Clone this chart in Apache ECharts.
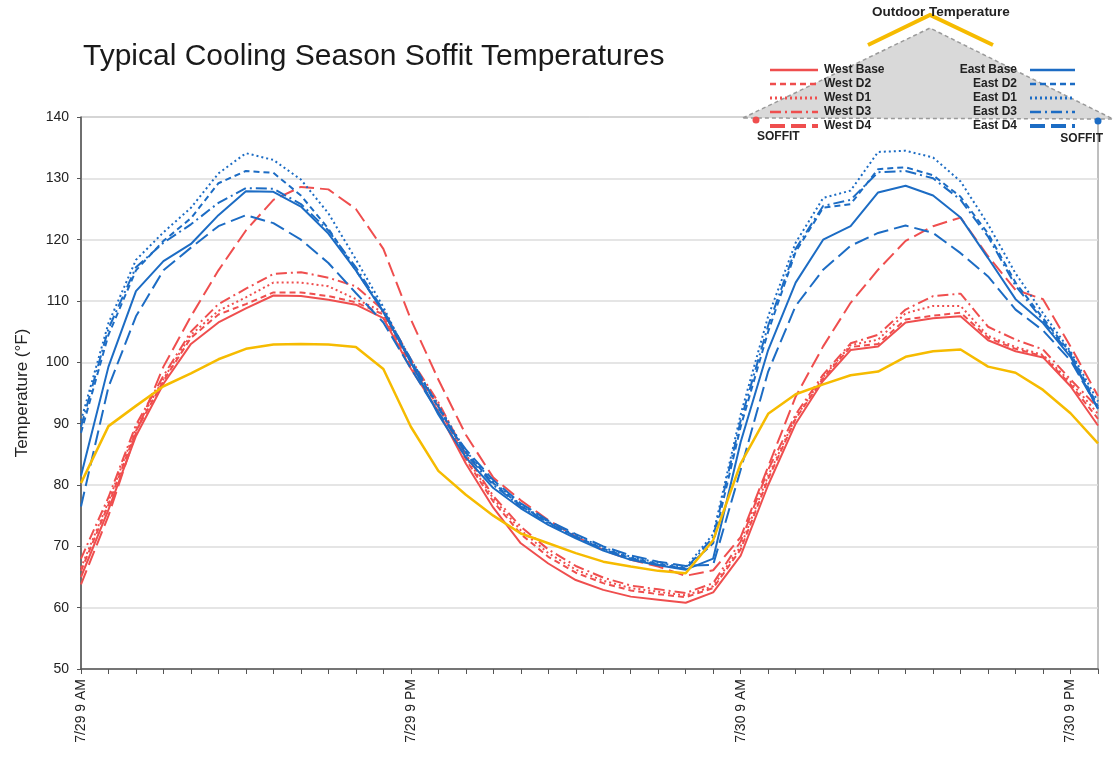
<!DOCTYPE html>
<html>
<head>
<meta charset="utf-8">
<script src="https://cdn.jsdelivr.net/npm/echarts@6/dist/echarts.min.js"></script>
<style>
html,body{margin:0;padding:0;background:#fff;}
#chart{width:1114px;height:759px;}
</style>
</head>
<body>
<div id="chart"></div>
<script>
const categories = [
  '7/29 9 AM','7/29 10 AM','7/29 11 AM','7/29 12 PM','7/29 1 PM','7/29 2 PM','7/29 3 PM','7/29 4 PM',
  '7/29 5 PM','7/29 6 PM','7/29 7 PM','7/29 8 PM','7/29 9 PM','7/29 10 PM','7/29 11 PM',
  '7/30 12 AM','7/30 1 AM','7/30 2 AM','7/30 3 AM','7/30 4 AM','7/30 5 AM','7/30 6 AM','7/30 7 AM',
  '7/30 8 AM','7/30 9 AM','7/30 10 AM','7/30 11 AM','7/30 12 PM','7/30 1 PM','7/30 2 PM','7/30 3 PM',
  '7/30 4 PM','7/30 5 PM','7/30 6 PM','7/30 7 PM','7/30 8 PM','7/30 9 PM','7/30 10 PM'
];
const tickLabels = ['7/29 9 AM','7/29 9 PM','7/30 9 AM','7/30 9 PM'];

const outdoor  = [80.3,89.6,92.9,96.1,98.2,100.5,102.2,102.9,103.0,102.9,102.5,98.9,89.5,82.3,78.4,75.0,72.1,70.5,68.9,67.5,66.7,66.0,65.6,71.0,83.5,91.6,94.8,96.4,97.9,98.5,100.9,101.8,102.1,99.3,98.3,95.5,91.7,86.8];

const westBase = [65.0,76.0,88.0,96.5,103.0,106.5,108.8,110.9,110.8,110.2,109.4,107.2,99.0,92.0,83.5,76.3,70.5,67.2,64.5,62.9,61.8,61.3,60.8,62.5,68.5,80.0,90.0,97.0,102.0,102.6,106.5,107.2,107.5,103.6,101.8,100.8,96.1,89.7];
const westD2   = [66.0,76.8,88.8,97.0,104.0,107.8,109.5,111.4,111.4,110.8,109.8,107.8,99.5,92.8,84.2,77.3,72.0,68.3,65.7,64.0,62.8,62.2,61.7,63.2,69.5,81.0,90.8,97.4,102.5,103.0,107.0,107.6,108.1,104.0,102.2,101.0,96.4,90.8];
const westD1   = [66.5,77.3,89.3,97.3,104.5,108.4,110.6,113.0,113.0,112.4,110.3,108.2,100.0,93.2,84.6,77.8,72.6,68.9,66.2,64.4,63.2,62.6,62.0,63.5,70.0,81.5,91.0,97.6,102.8,103.7,108.0,109.2,109.2,104.3,102.5,101.2,96.8,91.6];
const westD3   = [68.0,78.0,89.8,97.8,105.0,109.5,112.0,114.4,114.7,113.8,112.4,108.5,100.5,93.5,85.0,78.2,73.2,69.5,66.8,64.9,63.6,63.0,62.4,64.0,70.8,82.5,91.5,98.0,103.1,104.5,108.6,110.8,111.2,105.8,103.7,102.1,97.2,92.6];
const westD4   = [63.8,75.0,88.5,99.3,107.5,115.0,121.5,126.5,128.6,128.2,125.0,118.5,107.0,97.2,88.2,81.2,77.5,74.3,71.6,69.4,67.8,66.7,65.2,66.1,71.5,83.0,94.4,102.6,109.7,115.1,119.8,122.2,123.6,117.3,111.8,110.3,102.6,94.5];

const eastBase = [81.5,99.3,111.6,116.5,119.3,124.0,127.9,127.8,125.4,121.0,115.0,108.2,100.0,91.5,84.5,79.5,76.2,73.5,71.3,69.3,67.8,66.9,66.2,68.0,87.0,102.0,113.0,120.0,122.2,127.7,128.8,127.2,123.6,117.0,110.3,106.4,100.9,92.4];
const eastD2   = [88.5,104.5,115.0,119.8,123.5,129.2,131.2,130.9,127.2,121.8,115.0,108.3,100.3,92.6,85.3,80.3,76.6,73.9,71.6,69.6,68.1,67.1,66.4,70.5,89.5,105.0,118.0,125.2,125.8,131.5,131.8,130.5,127.0,121.0,113.0,107.2,101.5,92.8];
const eastD1   = [90.5,106.4,116.7,121.2,125.2,130.8,134.1,133.0,129.8,124.3,116.8,109.0,100.0,93.0,85.5,80.5,76.8,74.0,71.8,69.8,68.3,67.3,66.6,72.0,91.5,107.5,119.5,126.8,128.0,134.3,134.5,133.4,129.5,122.5,114.5,108.0,101.8,93.6];
const eastD3   = [89.5,105.5,115.5,119.5,122.5,126.0,128.4,128.3,125.8,121.5,115.5,108.5,100.5,92.8,85.0,80.0,76.5,73.8,71.5,69.5,68.0,67.0,66.3,71.5,90.5,106.0,118.5,125.5,126.5,131.0,131.2,130.0,126.5,120.5,112.5,106.8,101.2,92.4];
const eastD4   = [76.5,96.0,107.5,115.0,118.7,122.2,124.0,122.7,120.0,116.2,111.3,106.5,99.0,91.8,85.8,80.8,77.0,74.2,72.0,70.0,68.5,67.5,66.8,67.0,82.5,98.5,109.2,115.1,119.0,121.1,122.3,121.1,117.8,114.0,108.6,105.2,100.3,92.5];

const westNames = ['West Base','West D2','West D1','West D3','West D4'];
const eastNames = ['East Base','East D2','East D1','East D3','East D4'];

const RED = '#ef4e4e', BLUE = '#1c6cc4', GOLD = '#f6bb00';
const dashes = ['solid', [6,4], [2,3], [11,4,2,4], [15,6]];
const westData = [westBase, westD2, westD1, westD3, westD4];
const eastData = [eastBase, eastD2, eastD1, eastD3, eastD4];

const series = [];
westData.forEach((d,i)=>series.push({name:westNames[i],type:'line',data:d,showSymbol:false,
  lineStyle:{color:RED,width:2,type:dashes[i]},itemStyle:{color:RED}}));
eastData.forEach((d,i)=>series.push({name:eastNames[i],type:'line',data:d,showSymbol:false,
  lineStyle:{color:BLUE,width:2,type:dashes[i]},itemStyle:{color:BLUE}}));
series.push({name:'Outdoor Temperature',type:'line',data:outdoor,showSymbol:false,
  lineStyle:{color:GOLD,width:2.5},itemStyle:{color:GOLD}});

// custom roof legend
const rowsY = [70,84,98,112,126];
const legendFont = 'bold 12px "Liberation Sans", Arial, sans-serif';
const graphic = [
  {type:'polygon',z:10,shape:{points:[[743,118],[930,28],[1113,119]]},
   style:{fill:'#d9d9d9',stroke:'#9a9a9a',lineWidth:1.5,lineDash:[4,3]}},
  {type:'polyline',z:11,shape:{points:[[868,45],[930,15],[993,45]]},
   style:{stroke:GOLD,lineWidth:4,fill:null}},
  {type:'text',z:12,style:{x:941,y:12,text:'Outdoor Temperature',textAlign:'center',textVerticalAlign:'middle',
   font:'bold 13.5px "Liberation Sans", Arial, sans-serif',fill:'#222'}},
  {type:'circle',z:12,shape:{cx:756,cy:120,r:3.5},style:{fill:RED}},
  {type:'circle',z:12,shape:{cx:1098,cy:121,r:3.5},style:{fill:BLUE}},
  {type:'text',z:12,style:{x:757,y:137,text:'SOFFIT',textAlign:'left',textVerticalAlign:'middle',font:legendFont,fill:'#222'}},
  {type:'text',z:12,style:{x:1103,y:139,text:'SOFFIT',textAlign:'right',textVerticalAlign:'middle',font:legendFont,fill:'#222'}}
];
rowsY.forEach((y,i)=>{
  const w = (i===4)?4:(i===2?3:2.5);
  graphic.push({type:'line',z:12,shape:{x1:770,y1:y,x2:818,y2:y},
    style:{stroke:RED,lineWidth:w,lineDash:dashes[i]==='solid'?null:dashes[i]}});
  graphic.push({type:'text',z:12,style:{x:824,y:y,text:westNames[i],textAlign:'left',textVerticalAlign:'middle',font:legendFont,fill:'#222'}});
  graphic.push({type:'line',z:12,shape:{x1:1030,y1:y,x2:1075,y2:y},
    style:{stroke:BLUE,lineWidth:w,lineDash:dashes[i]==='solid'?null:dashes[i]}});
  graphic.push({type:'text',z:12,style:{x:1017,y:y,text:eastNames[i],textAlign:'right',textVerticalAlign:'middle',font:legendFont,fill:'#222'}});
});

const chart = echarts.init(document.getElementById('chart'), null, {renderer:'canvas'});
chart.setOption({
  animation:false,
  backgroundColor:'#fff',
  textStyle:{fontFamily:'"Liberation Sans", Arial, sans-serif'},
  title:{text:'Typical Cooling Season Soffit Temperatures',left:78,top:37,
    textStyle:{fontSize:30,fontWeight:'normal',color:'#1a1a1a',fontFamily:'"Liberation Sans", Arial, sans-serif'}},
  legend:{show:false},
  grid:{left:81,right:16,top:117,bottom:90,show:true,borderColor:'#7f7f7f',borderWidth:1,backgroundColor:'transparent'},
  xAxis:{type:'category',data:categories,boundaryGap:false,
    axisLine:{lineStyle:{color:'#555',width:1.5}},
    axisTick:{show:true,interval:0,length:5,lineStyle:{color:'#555'}},
    axisLabel:{interval:11,rotate:90,fontSize:14,color:'#222',margin:10,
      formatter:v=>tickLabels.includes(v)?v:''},
    splitLine:{show:false}},
  yAxis:{type:'value',min:50,max:140,interval:10,
    name:'Temperature (°F)',nameLocation:'middle',nameGap:50,
    nameTextStyle:{fontSize:17,color:'#222'},
    axisLine:{show:true,lineStyle:{color:'#555',width:1.5}},
    axisTick:{show:true,length:4,lineStyle:{color:'#555'}},
    axisLabel:{fontSize:14,color:'#222',margin:12},
    splitLine:{lineStyle:{color:'#dcdcdc',width:1.5}}},
  series:series,
  graphic:graphic
});
</script>
</body>
</html>
